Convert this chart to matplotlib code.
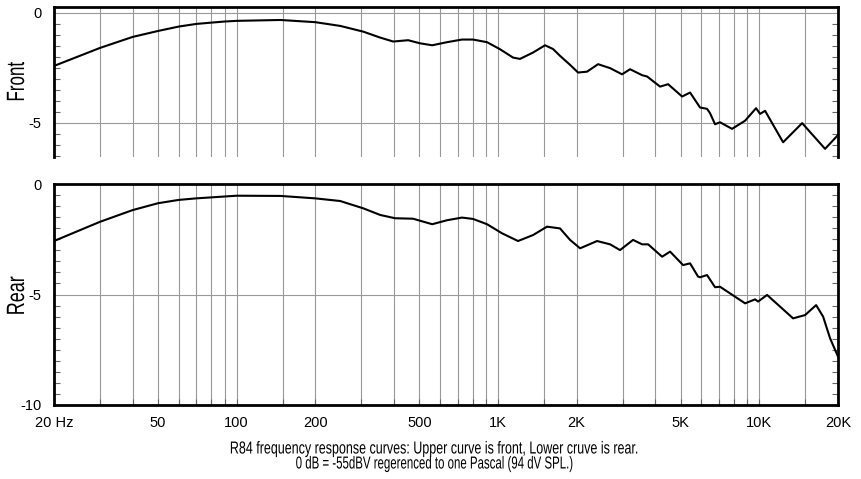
import numpy as np
import matplotlib
matplotlib.use("Agg")
from matplotlib import pyplot as plt
from matplotlib.ticker import FixedLocator, MultipleLocator, NullFormatter
from matplotlib.patheffects import AbstractPathEffect
from matplotlib.transforms import Affine2D

# frequency response (Hz, dB)
front_freq = [20, 30, 40, 50, 60, 70, 80, 90, 100, 147, 200, 249, 305, 354, 397,
              453, 503, 560, 638, 728, 802, 908, 1018, 1142, 1214, 1362, 1514,
              1624, 1727, 1887, 2025, 2191, 2415, 2685, 2983, 3202, 3560, 3720,
              4171, 4476, 5064, 5433, 5932, 6309, 6478, 6769, 7074, 7862, 8821,
              9718, 10066, 10519, 12330, 14580, 17850, 20000]
front_db = [-2.41, -1.59, -1.09, -0.82, -0.62, -0.50, -0.44, -0.39, -0.36, -0.32,
            -0.42, -0.59, -0.85, -1.12, -1.30, -1.24, -1.38, -1.47, -1.33, -1.21,
            -1.21, -1.33, -1.65, -2.03, -2.09, -1.80, -1.47, -1.64, -1.95, -2.36,
            -2.71, -2.67, -2.33, -2.51, -2.79, -2.56, -2.83, -2.89, -3.35, -3.24,
            -3.80, -3.62, -4.30, -4.36, -4.56, -5.06, -4.97, -5.27, -4.90, -4.33,
            -4.59, -4.45, -5.88, -5.01, -6.18, -5.55]

rear_freq = [20, 30, 40, 50, 60, 70, 100, 147, 200, 249, 305, 354, 404, 473, 560,
             638, 728, 802, 908, 1036, 1193, 1362, 1540, 1727, 1887, 2061, 2394,
             2685, 2931, 3287, 3560, 3754, 4245, 4555, 5108, 5433, 5829, 5932,
             6309, 6769, 7074, 8821, 9632, 9890, 10707, 13465, 14970, 16494,
             17540, 18650, 20000]
rear_db = [-2.58, -1.71, -1.18, -0.87, -0.72, -0.65, -0.53, -0.54, -0.65, -0.77,
           -1.10, -1.40, -1.55, -1.57, -1.82, -1.64, -1.52, -1.58, -1.82, -2.23,
           -2.58, -2.31, -1.93, -2.01, -2.53, -2.91, -2.58, -2.73, -2.99, -2.53,
           -2.73, -2.73, -3.29, -3.06, -3.67, -3.59, -4.19, -4.22, -4.12, -4.67,
           -4.65, -5.40, -5.22, -5.32, -5.02, -6.08, -5.93, -5.48, -6.00, -6.98,
           -7.81]

grid_freqs = [20, 30, 40, 50, 60, 70, 80, 90, 100, 150, 200, 300, 400, 500, 600,
              700, 800, 900, 1000, 1500, 2000, 3000, 4000, 5000, 6000, 7000, 8000,
              9000, 10000, 15000, 20000]
tick_freqs = [20, 50, 100, 200, 500, 1000, 2000, 5000, 10000, 20000]
tick_labels = ["20 Hz", "50", "100", "200", "500", "1K", "2K", "5K", "10K", "20K"]

plt.rcParams["font.family"] = ["Liberation Sans", "DejaVu Sans"]


class Narrow(AbstractPathEffect):
    # squeeze glyphs along the baseline to get a condensed look
    def __init__(self, sx):
        super().__init__()
        self.sx = sx

    def draw_path(self, renderer, gc, tpath, affine, rgbFace=None):
        ext = tpath.get_extents()
        cx = (ext.x0 + ext.x1) / 2
        sq = Affine2D().translate(-cx, 0).scale(self.sx, 1).translate(cx, 0)
        renderer.draw_path(gc, tpath, sq + affine, rgbFace)


fig = plt.figure(figsize=(8.61, 4.79), dpi=100)
ax1 = fig.add_axes([54 / 861, 1 - 157 / 479, 784 / 861, 150 / 479])
ax2 = fig.add_axes([54 / 861, 1 - 405 / 479, 784 / 861, 221 / 479])


def style(ax, ylo, yhi, majors):
    ax.set_xscale("log")
    ax.set_xlim(20, 20000)
    ax.set_ylim(ylo, yhi)
    for f in grid_freqs:
        ax.axvline(f, color="#999999", lw=0.8, zorder=1)
    for m in majors:
        ax.axhline(m, color="#999999", lw=0.8, zorder=1)
    ax.yaxis.set_major_locator(FixedLocator(majors))
    ax.yaxis.set_minor_locator(MultipleLocator(0.5))
    ax.set_yticklabels([str(m) for m in majors])
    ax.tick_params(axis="y", which="both", direction="in", left=True, right=True,
                   length=4, width=0.8, color="#666666", labelsize=10.5, pad=9)
    ax.tick_params(axis="y", which="major", length=0)
    for s in ax.spines.values():
        s.set_linewidth(2)
        s.set_color("black")


style(ax1, -6.55, 0.27, [0, -5])
ax1.spines["bottom"].set_visible(False)
ax1.xaxis.set_major_locator(FixedLocator([]))
ax1.xaxis.set_minor_locator(FixedLocator([]))
ax1.plot(front_freq, front_db, color="black", lw=1.5, zorder=3,
         solid_joinstyle="round")

style(ax2, -10, 0, [0, -5, -10])
ax2.xaxis.set_major_locator(FixedLocator(tick_freqs))
ax2.xaxis.set_minor_locator(FixedLocator(grid_freqs))
ax2.xaxis.set_minor_formatter(NullFormatter())
ax2.set_xticklabels(tick_labels)
ax2.tick_params(axis="x", which="both", direction="in", length=4, width=0.8,
                color="#666666", labelsize=10.5, pad=8)
ax2.plot(rear_freq, rear_db, color="black", lw=1.5, zorder=3,
         solid_joinstyle="round")

fig.text(17 / 861, 1 - 82 / 479, "Front", rotation=90, ha="center", va="center",
         fontsize=18, path_effects=[Narrow(0.68)])
fig.text(17 / 861, 1 - 296 / 479, "Rear", rotation=90, ha="center", va="center",
         fontsize=18, path_effects=[Narrow(0.72)])
fig.text(435 / 861, 1 - 449 / 479,
         "R84 frequency response curves: Upper curve is front, Lower cruve is rear.",
         ha="center", va="center", fontsize=12.5, path_effects=[Narrow(0.72)])
fig.text(435 / 861, 1 - 464 / 479,
         "0 dB = -55dBV regerenced to one Pascal (94 dV SPL.)",
         ha="center", va="center", fontsize=12.5, path_effects=[Narrow(0.66)])

fig.savefig("out.png", dpi=100)
